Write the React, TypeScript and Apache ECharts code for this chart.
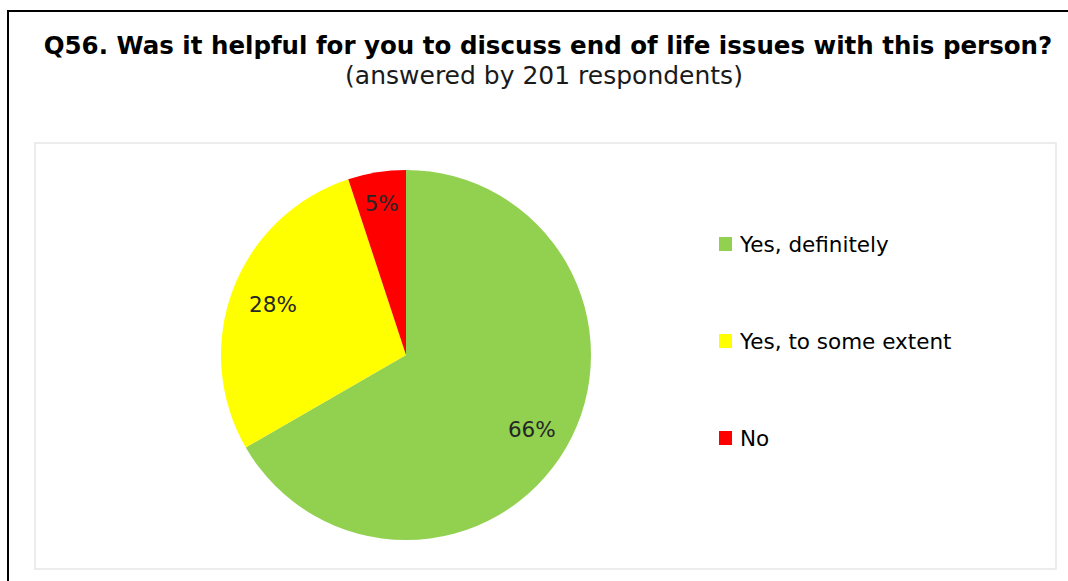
import React, { useEffect, useRef } from "react";
import * as echarts from "echarts";

const categories = ["Yes, definitely", "Yes, to some extent", "No"];
const percentages = [66, 28, 5];
const colors = ["#92D050", "#FFFF00", "#FF0000"];
const labelDistance = [0.785, 0.77, 0.83];
const titleText = "Q56. Was it helpful for you to discuss end of life issues with this person?";
const subtitleText = "(answered by 201 respondents)";

const CX = 406;
const CY = 355;
const R = 185;

export default function App() {
  const ref = useRef<HTMLDivElement>(null);
  useEffect(() => {
    if (!ref.current) return;
    const chart = echarts.init(ref.current, null, { renderer: "svg" });
    const total = percentages.reduce((a, b) => a + b, 0);
    const midAngles: number[] = [];
    let acc = 0;
    percentages.forEach((v) => {
      midAngles.push(((acc + v / 2) / total) * Math.PI * 2);
      acc += v;
    });
    chart.setOption({
      animation: false,
      backgroundColor: "#ffffff",
      graphic: [
        {
          type: "rect",
          shape: { x: 8, y: 11, width: 1080, height: 600 },
          style: { fill: "none", stroke: "#000000", lineWidth: 2 },
          z: -10,
        },
        {
          type: "rect",
          shape: { x: 35, y: 143, width: 1021, height: 426 },
          style: { fill: "none", stroke: "#e6e6e6", lineWidth: 1.5 },
          z: -10,
        },
      ],
      title: [
        {
          text: titleText,
          left: 543,
          top: 28,
          textAlign: "center",
          textStyle: {
            fontFamily: "DejaVu Sans",
            fontWeight: "bold",
            fontSize: 24.5,
            color: "#000000",
          },
        },
        {
          text: subtitleText,
          left: 539,
          top: 58,
          textAlign: "center",
          textStyle: {
            fontFamily: "DejaVu Sans",
            fontWeight: "normal",
            fontSize: 25,
            color: "#1a1a1a",
          },
        },
      ],
      legend: {
        orient: "vertical",
        left: 714,
        top: 228,
        itemGap: 75,
        itemWidth: 13,
        itemHeight: 14,
        icon: "rect",
        data: categories,
        textStyle: {
          fontFamily: "DejaVu Sans",
          fontSize: 21.5,
          lineHeight: 20,
          color: "#000000",
          padding: [0, 0, 0, 3],
        },
      },
      series: [
        {
          type: "pie",
          center: [CX, CY],
          radius: R,
          startAngle: 90,
          clockwise: true,
          silent: true,
          data: categories.map((name, i) => ({
            name,
            value: percentages[i],
            itemStyle: { color: colors[i] },
          })),
          label: {
            show: true,
            position: "inside",
            formatter: (p: any) => `${p.value}%`,
            fontFamily: "DejaVu Sans",
            fontSize: 21.5,
            color: "#262626",
          },
          labelLine: { show: false },
          labelLayout: (params: any) => {
            const a = midAngles[params.dataIndex];
            const d = R * labelDistance[params.dataIndex];
            return {
              x: CX + d * Math.sin(a),
              y: CY - d * Math.cos(a) + (params.dataIndex === 0 ? 2 : 0),
              align: "center",
              verticalAlign: "middle",
            };
          },
        },
      ],
    });
    return () => chart.dispose();
  }, []);
  return (
    <div
      ref={ref}
      style={{ position: "fixed", left: 0, top: 0, width: 1068, height: 581 }}
    />
  );
}
